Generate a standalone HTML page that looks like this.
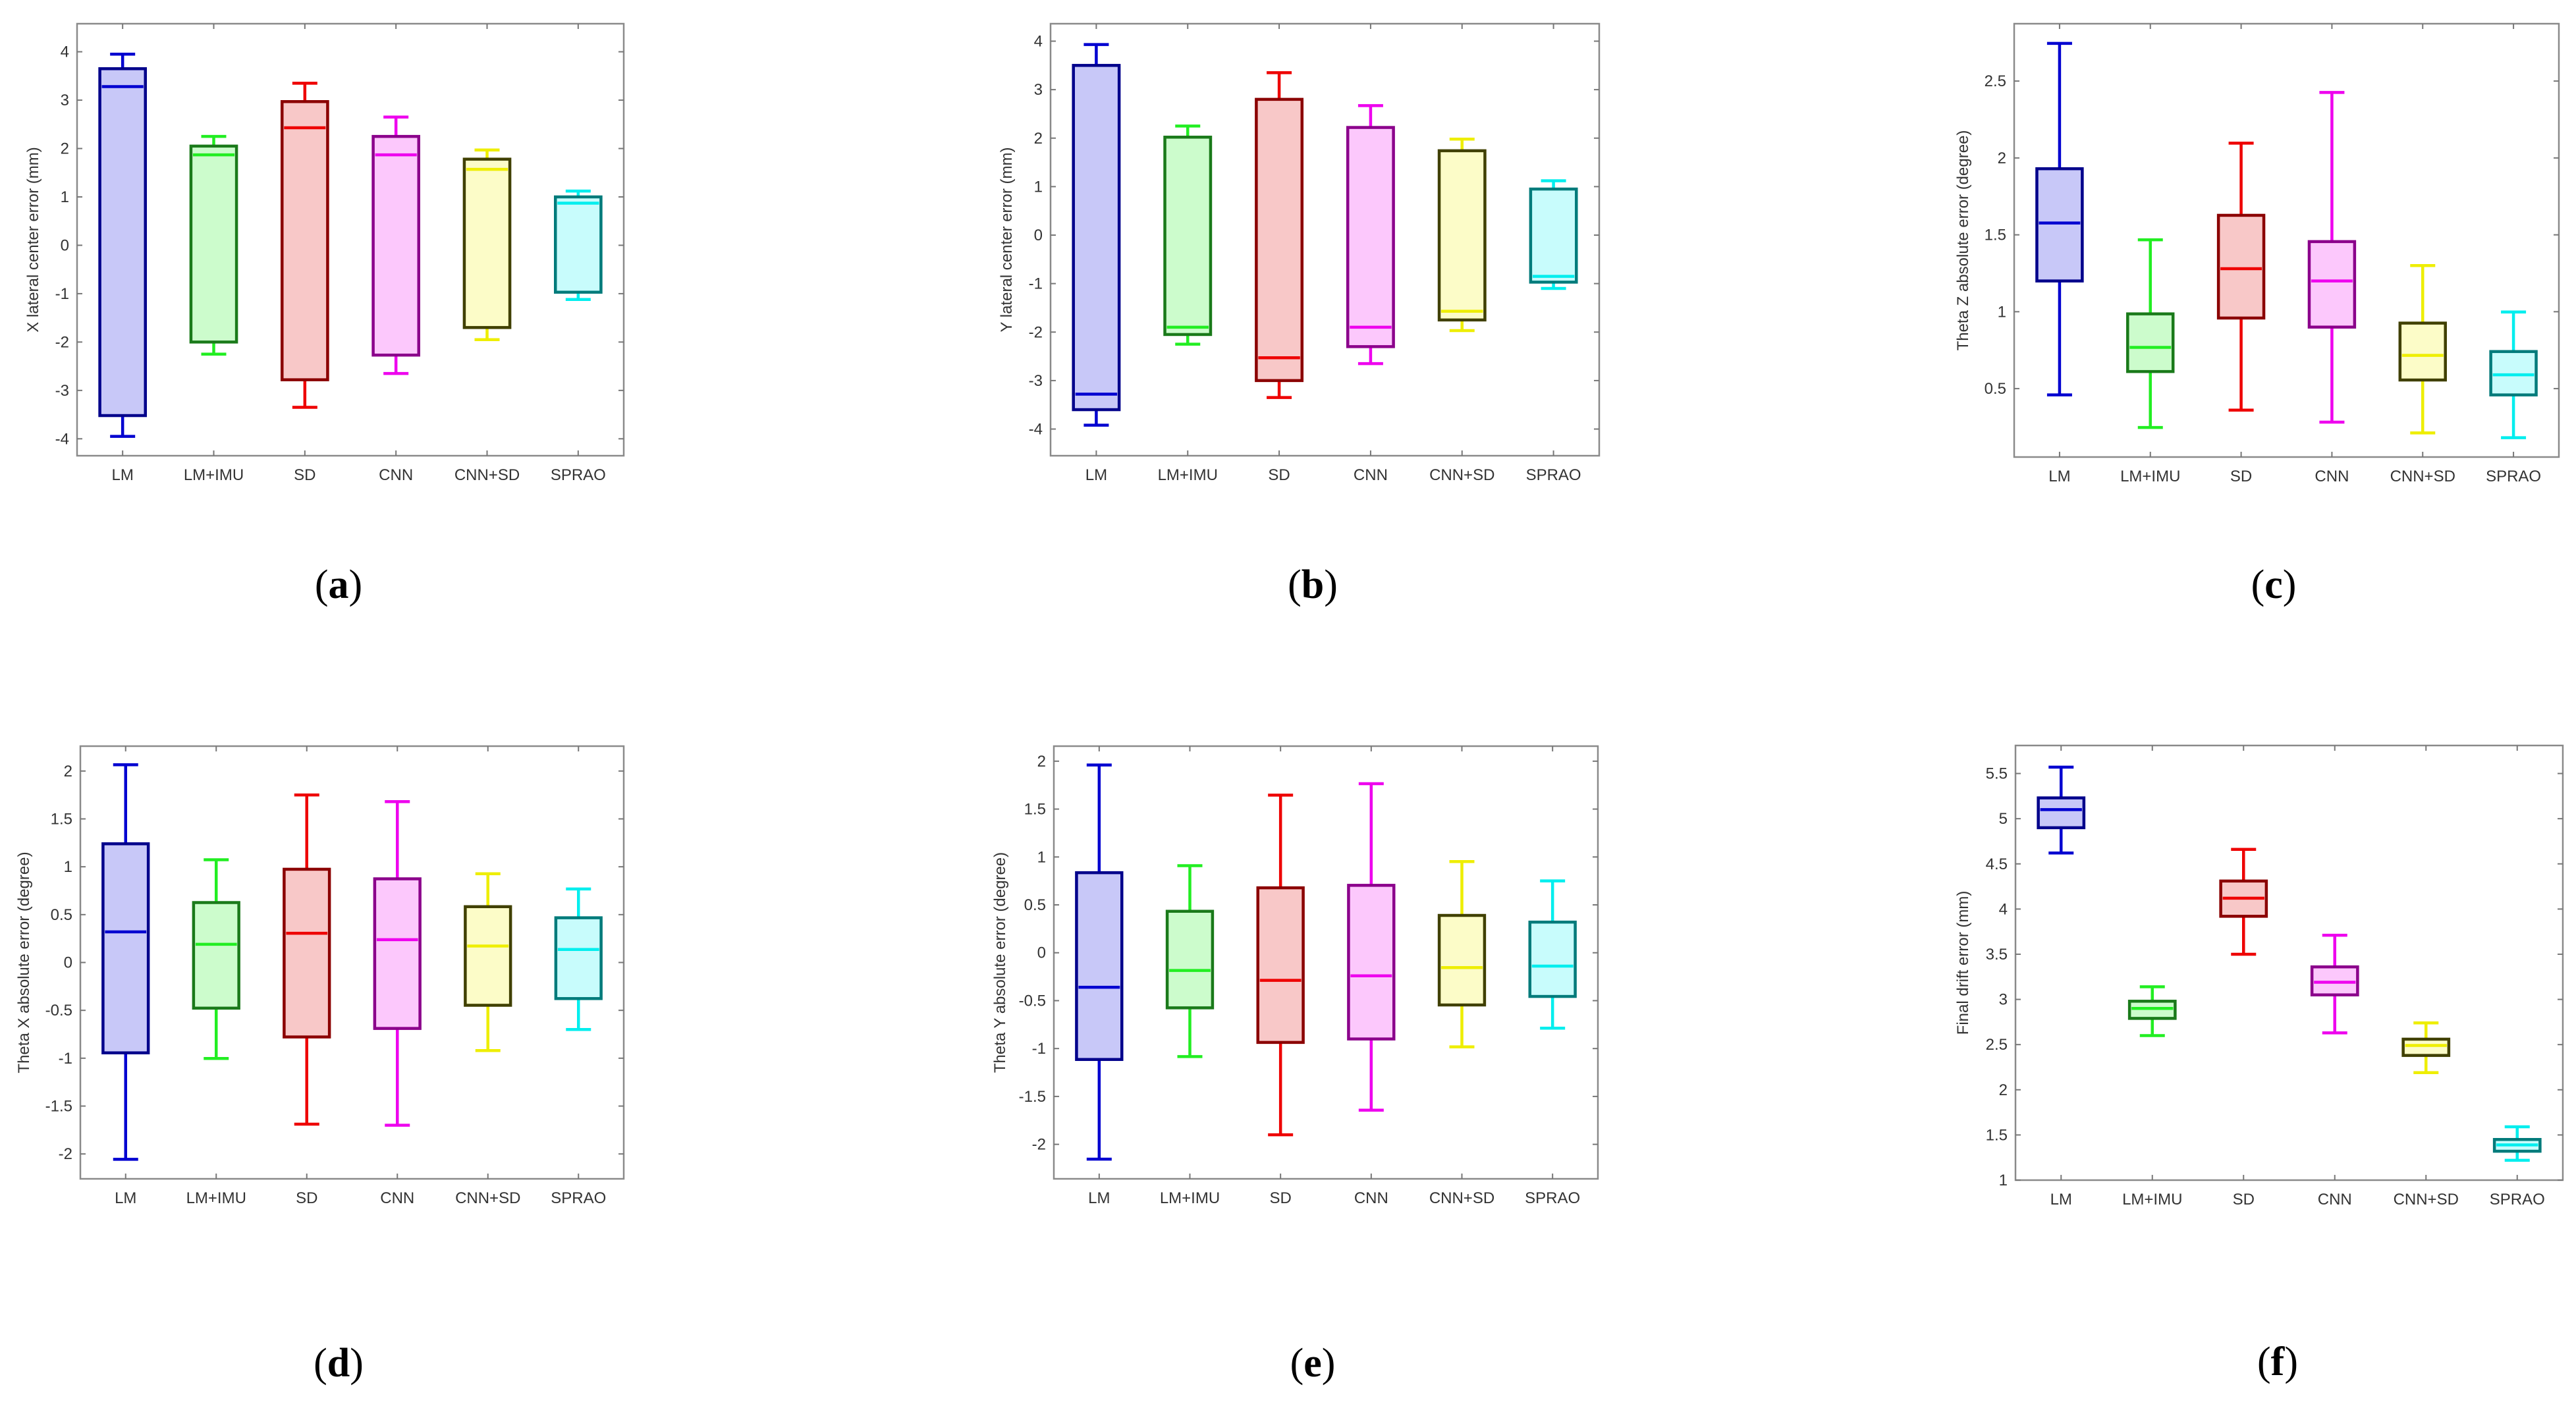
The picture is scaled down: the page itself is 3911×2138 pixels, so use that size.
<!DOCTYPE html>
<html><head><meta charset="utf-8"><style>
html,body{margin:0;padding:0;background:#fff}
svg{display:block}
</style></head><body>
<svg id="fig" width="3911" height="2138" viewBox="0 0 3911 2138" xmlns="http://www.w3.org/2000/svg"></svg>
<script>
const categories = ["LM","LM+IMU","SD","CNN","CNN+SD","SPRAO"];
// each row: [lowWhisker, q1, median, q3, highWhisker]
const dataA = [[-3.95,-3.52,3.28,3.65,3.95],[-2.25,-2.0,1.87,2.05,2.25],[-3.35,-2.78,2.43,2.97,3.35],[-2.65,-2.27,1.87,2.25,2.65],[-1.95,-1.7,1.57,1.78,1.97],[-1.12,-0.97,0.87,1.0,1.12]];
const dataB = [[-3.92,-3.6,-3.28,3.5,3.93],[-2.25,-2.05,-1.9,2.02,2.25],[-3.35,-3.0,-2.53,2.8,3.35],[-2.65,-2.3,-1.9,2.22,2.67],[-1.97,-1.75,-1.57,1.74,1.98],[-1.1,-0.97,-0.85,0.95,1.12]];
const dataC = [[0.459,1.2,1.577,1.93,2.745],[0.247,0.611,0.768,0.986,1.468],[0.36,0.959,1.28,1.627,2.096],[0.282,0.9,1.2,1.456,2.426],[0.212,0.556,0.716,0.926,1.3],[0.181,0.459,0.59,0.741,0.998]];
const dataD = [[-2.056,-0.944,0.32,1.24,2.066],[-1.003,-0.477,0.19,0.626,1.073],[-1.689,-0.778,0.305,0.974,1.75],[-1.7,-0.689,0.238,0.874,1.68],[-0.92,-0.447,0.172,0.583,0.927],[-0.7,-0.377,0.136,0.467,0.768]];
const dataE = [[-2.155,-1.114,-0.36,0.836,1.96],[-1.084,-0.575,-0.185,0.433,0.909],[-1.9,-0.936,-0.288,0.678,1.646],[-1.643,-0.9,-0.241,0.704,1.765],[-0.982,-0.545,-0.155,0.39,0.952],[-0.787,-0.456,-0.139,0.32,0.75]];
const dataF = [[4.62,4.9,5.1,5.23,5.57],[2.6,2.79,2.9,2.98,3.14],[3.5,3.92,4.12,4.31,4.66],[2.63,3.05,3.19,3.36,3.71],[2.19,2.38,2.49,2.56,2.74],[1.22,1.32,1.39,1.45,1.59]];
const ticksA = [-4,-3,-2,-1,0,1,2,3,4];
const ticksB = [-4,-3,-2,-1,0,1,2,3,4];
const ticksC = [0.5,1,1.5,2,2.5];
const ticksD = [-2,-1.5,-1,-0.5,0,0.5,1,1.5,2];
const ticksE = [-2,-1.5,-1,-0.5,0,0.5,1,1.5,2];
const ticksF = [1,1.5,2,2.5,3,3.5,4,4.5,5,5.5];

const bright=["#0000d0","#22ee22","#ee0000","#ee00ee","#eeee00","#00eeee"];
const dark=["#00008b","#1a7a1a","#8b0000","#8b008b","#404000","#007b7b"];
const fills=["#c8c8f8","#ccfccc","#f8c8c8","#fcc8fc","#fcfcc8","#c8fcfc"];
const NS="http://www.w3.org/2000/svg";
const svg=document.getElementById('fig');
function mk(tag,attrs,parent){const e=document.createElementNS(NS,tag);for(const k in attrs)e.setAttribute(k,attrs[k]);(parent||svg).appendChild(e);return e;}

const panels=[
 {id:'a',data:dataA,ticks:ticksA,ylim:[-4.35,4.58],L:117,R:947,T:36,B:692,title:'X lateral center error (mm)',tx:58,cap:'a',cx:514,cy:908},
 {id:'b',data:dataB,ticks:ticksB,ylim:[-4.55,4.36],L:1595,R:2428,T:36,B:692,title:'Y lateral center error (mm)',tx:1536,cap:'b',cx:1993,cy:908},
 {id:'c',data:dataC,ticks:ticksC,ylim:[0.055,2.873],L:3058,R:3885,T:36,B:694,title:'Theta Z absolute error (degree)',tx:2988,cap:'c',cx:3452,cy:908},
 {id:'d',data:dataD,ticks:ticksD,ylim:[-2.26,2.26],L:122,R:947,T:1133,B:1790,title:'Theta X absolute error (degree)',tx:44,cap:'d',cx:514,cy:2090},
 {id:'e',data:dataE,ticks:ticksE,ylim:[-2.36,2.157],L:1600,R:2426,T:1133,B:1790,title:'Theta Y absolute error (degree)',tx:1526,cap:'e',cx:1993,cy:2090},
 {id:'f',data:dataF,ticks:ticksF,ylim:[1,5.81],L:3060,R:3891,T:1132,B:1792,title:'Final drift error (mm)',tx:2988,cap:'f',cx:3458,cy:2088}
];

panels.forEach(p=>{
  const g=mk('g',{});
  
  
  const y=v=>p.B-(v-p.ylim[0])/(p.ylim[1]-p.ylim[0])*(p.B-p.T);
  const step=(p.R-p.L)/categories.length;
  const x=i=>p.L+step*(i+0.5);
  const frame=mk('rect',{x:p.L,y:p.T,width:p.R-p.L,height:p.B-p.T,fill:'#fff',stroke:'#8a8a8a','stroke-width':2.5},g);
  
  
  p.ticks.forEach(t=>{
    const yy=y(t);
    mk('line',{x1:p.L,x2:p.L+8,y1:yy,y2:yy,stroke:'#777','stroke-width':2},g);
    mk('line',{x1:p.R,x2:p.R-8,y1:yy,y2:yy,stroke:'#777','stroke-width':2},g);
    const tl=mk('text',{x:p.L-12,y:yy+8,'text-anchor':'end','font-size':24,fill:'#333','font-family':'Liberation Sans, sans-serif'},g);
    tl.textContent=String(t);
    
    
  });
  categories.forEach((c,i)=>{
    mk('line',{x1:x(i),x2:x(i),y1:p.B,y2:p.B-8,stroke:'#777','stroke-width':2},g);
    mk('line',{x1:x(i),x2:x(i),y1:p.T,y2:p.T+8,stroke:'#777','stroke-width':2},g);
    const cl=mk('text',{x:x(i),y:p.B+37,'text-anchor':'middle','font-size':24,fill:'#333','font-family':'Liberation Sans, sans-serif'},g);
    cl.textContent=c;
    
    
  });
  const yt=mk('text',{x:p.tx,y:(p.T+p.B)/2,'text-anchor':'middle','font-size':24,fill:'#333','font-family':'Liberation Sans, sans-serif',transform:`rotate(-90 ${p.tx} ${(p.T+p.B)/2})`},g);
  yt.textContent=p.title;
  
  
  p.data.forEach((d,i)=>{
    const bg=mk('g',{},g);
    
    
    const cx=x(i),bw=step*0.5,cw=38,sw=4.5;
    mk('line',{x1:cx,x2:cx,y1:y(d[0]),y2:y(d[1]),stroke:bright[i],'stroke-width':sw},bg);
    mk('line',{x1:cx,x2:cx,y1:y(d[3]),y2:y(d[4]),stroke:bright[i],'stroke-width':sw},bg);
    mk('line',{x1:cx-cw/2,x2:cx+cw/2,y1:y(d[0]),y2:y(d[0]),stroke:bright[i],'stroke-width':sw},bg);
    mk('line',{x1:cx-cw/2,x2:cx+cw/2,y1:y(d[4]),y2:y(d[4]),stroke:bright[i],'stroke-width':sw},bg);
    mk('rect',{x:cx-bw/2,y:y(d[3]),width:bw,height:y(d[1])-y(d[3]),fill:fills[i],stroke:dark[i],'stroke-width':sw},bg);
    mk('line',{x1:cx-bw/2+3,x2:cx+bw/2-3,y1:y(d[2]),y2:y(d[2]),stroke:bright[i],'stroke-width':sw},bg);
  });
  const cap=mk('text',{x:p.cx,y:p.cy,'text-anchor':'middle','font-size':62,fill:'#000','font-family':'Liberation Serif, serif'},g);
  cap.innerHTML='(<tspan font-weight="bold">'+p.cap+'</tspan>)';
  
  
});
</script>
</body></html>
